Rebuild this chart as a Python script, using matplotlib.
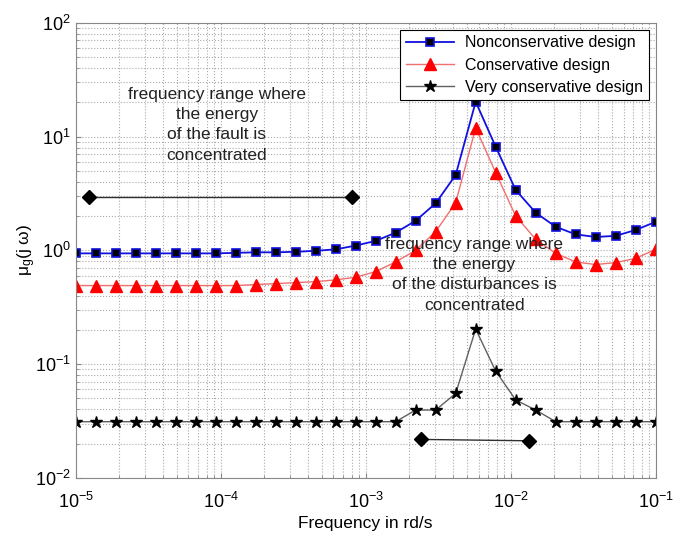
import numpy as np
import matplotlib
matplotlib.use("Agg")
import matplotlib.pyplot as plt

plt.rcParams['font.family'] = ['Liberation Sans', 'DejaVu Sans']
plt.rcParams['mathtext.fontset'] = 'custom'
plt.rcParams['mathtext.rm'] = 'Liberation Sans'
plt.rcParams['mathtext.it'] = 'Liberation Sans:italic'

# frequencies: 30 log-spaced points between 1e-5 and 1e-1
freq = np.logspace(-5, -1, 30)

nonconservative = [0.94, 0.94, 0.94, 0.94, 0.94, 0.94, 0.94, 0.94, 0.95, 0.96,
                   0.96, 0.97, 0.99, 1.02, 1.10, 1.21, 1.43, 1.82, 2.59, 4.59,
                   20.2, 8.13, 3.39, 2.14, 1.61, 1.38, 1.31, 1.34, 1.51, 1.78]
conservative = [0.49, 0.49, 0.49, 0.49, 0.49, 0.49, 0.49, 0.49, 0.49, 0.50,
                0.51, 0.52, 0.53, 0.55, 0.58, 0.65, 0.79, 1.00, 1.46, 2.62,
                11.9, 4.81, 2.00, 1.25, 0.94, 0.79, 0.75, 0.78, 0.85, 1.02]
very_conservative = [0.0312] * 17 + [0.0395, 0.0395, 0.0553, 0.203, 0.0869,
                                     0.0484, 0.0395, 0.0312, 0.0312, 0.0312,
                                     0.0312, 0.0312, 0.0312]
very_conservative = very_conservative[:30]

fault_range = [1.24e-5, 8.1e-4]
fault_level = [2.96, 2.96]
dist_range = [2.39e-3, 1.336e-2]
dist_level = [0.0218, 0.0212]

fig = plt.figure(figsize=(6.87, 5.34), dpi=100)
ax = fig.add_axes([0.110, 0.105, 0.8445, 0.8525])

ax.loglog(freq, nonconservative, '-s', color='#1010e0', lw=1.3, ms=6,
          mfc='black', mec='#1010e0', mew=1.2, label='Nonconservative design')
ax.loglog(freq, conservative, '-^', color='#f07070', lw=1.0, ms=9,
          mfc='red', mec='red', label='Conservative design')
ax.loglog(freq, very_conservative, '-*', color='#606060', lw=1.0, ms=9,
          mfc='black', mec='black', label='Very conservative design')

ax.plot(fault_range, fault_level, '-D', color='#303030', lw=1.0, ms=7,
        mfc='black', mec='black')
ax.plot(dist_range, dist_level, '-D', color='#303030', lw=1.0, ms=7,
        mfc='black', mec='black')

ax.text(9.4e-5, 27.5, 'frequency range where\nthe energy\nof the fault is\nconcentrated',
        ha='center', va='top', fontsize=12.5, color='#222222', linespacing=1.45)
ax.text(5.6e-3, 1.32, 'frequency range where\nthe energy\nof the disturbances is\nconcentrated',
        ha='center', va='top', fontsize=12.5, color='#222222', linespacing=1.45)

ax.set_xlim(1e-5, 1e-1)
ax.set_ylim(1e-2, 1e2)
ax.grid(True, which='both', linestyle=':', color='#aaaaaa', lw=0.8)
for s in ax.spines.values():
    s.set_color('#888888')
ax.tick_params(which='both', direction='in', color='#888888', labelsize=13)
ax.tick_params(axis='x', pad=10)

ax.set_xlabel('Frequency in rd/s', fontsize=12.5, labelpad=3)
ax.set_ylabel(r'$\mathregular{\mu_g(j\ \omega)}$', fontsize=12.5)
ax.yaxis.set_label_coords(-0.065, 0.5)

leg = ax.legend(loc='upper right', fontsize=11.5, fancybox=False,
                edgecolor='black', framealpha=1, borderaxespad=0.45,
                handlelength=3.0, handletextpad=0.7, labelspacing=0.45,
                borderpad=0.35)
leg.get_frame().set_linewidth(0.8)

fig.savefig('out.png', dpi=100)
